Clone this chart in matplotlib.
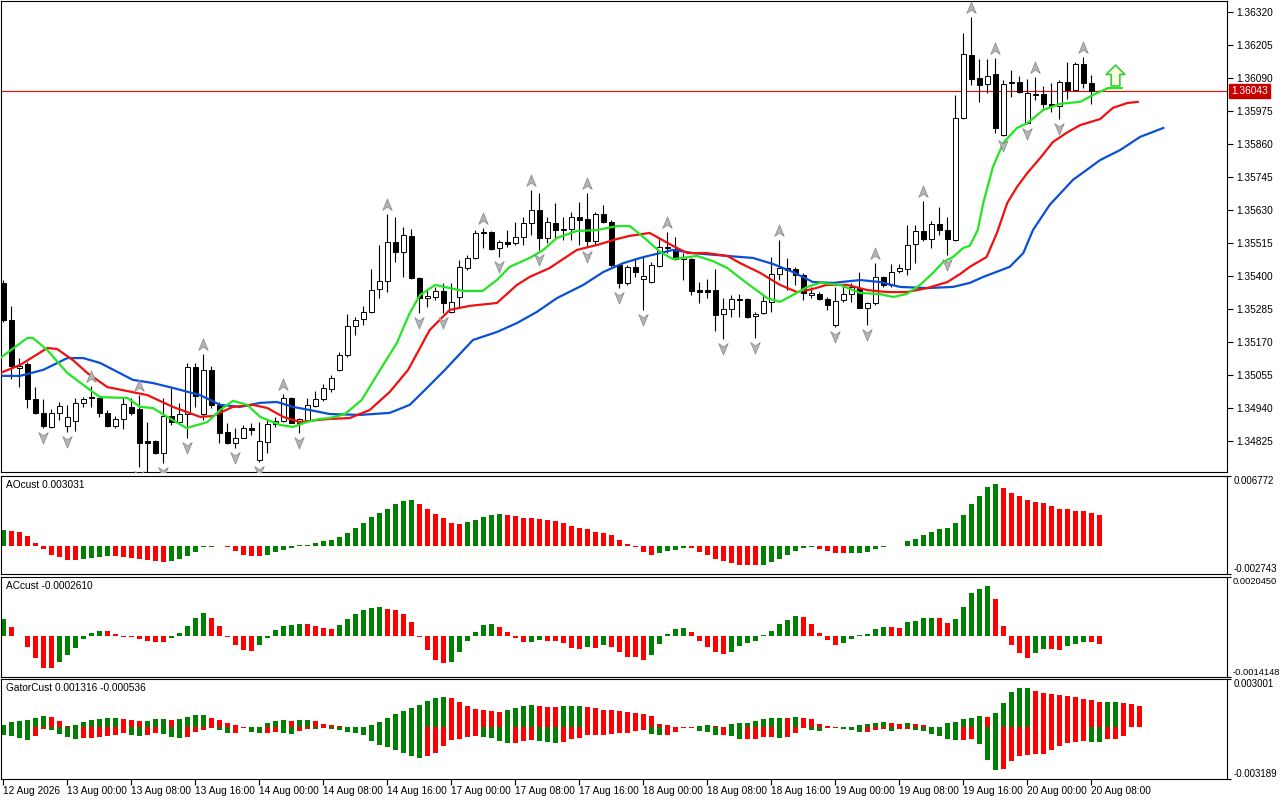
import numpy as np
import matplotlib
matplotlib.use('Agg')
import matplotlib.pyplot as plt
from matplotlib.path import Path

plt.rcParams['font.family'] = ['Liberation Sans', 'DejaVu Sans']
plt.rcParams['font.size'] = 7.3

# ---- H1 candles, 12 Aug 16:00 .. 20 Aug 09:00 ----
opens = [1.35375, 1.35246, 1.35079, 1.35093, 1.34970, 1.34922, 1.34873, 1.34922, 1.34876, 1.34894,
         1.34957, 1.34977, 1.34974, 1.34922, 1.34876, 1.34901, 1.34943, 1.34936, 1.34824, 1.34824,
         1.34782, 1.34911, 1.34890, 1.34918, 1.35082, 1.34918, 1.35072, 1.34950, 1.34856, 1.34817,
         1.34835, 1.34869, 1.34758, 1.34821, 1.34883, 1.34894, 1.34974, 1.34887, 1.34897, 1.34946,
         1.34970, 1.35005, 1.35072, 1.35124, 1.35225, 1.35249, 1.35274, 1.35354, 1.35382, 1.35518,
         1.35483, 1.35539, 1.35392, 1.35322, 1.35326, 1.35347, 1.35274, 1.35326, 1.35427, 1.35462,
         1.35549, 1.35552, 1.35497, 1.35518, 1.35514, 1.35535, 1.35584, 1.35629, 1.35532, 1.35584,
         1.35559, 1.35563, 1.35605, 1.35598, 1.35521, 1.35615, 1.35587, 1.35438, 1.35375, 1.35431,
         1.35389, 1.35378, 1.35434, 1.35497, 1.35493, 1.35458, 1.35458, 1.35350, 1.35350, 1.35350,
         1.35267, 1.35284, 1.35319, 1.35319, 1.35260, 1.35270, 1.35309, 1.35406, 1.35427, 1.35424,
         1.35403, 1.35333, 1.35336, 1.35319, 1.35228, 1.35315, 1.35336, 1.35357, 1.35288, 1.35305,
         1.35396, 1.35368, 1.35417, 1.35424, 1.35511, 1.35556, 1.35528, 1.35580, 1.35559, 1.35525,
         1.35950, 1.36169, 1.36089, 1.36068, 1.36103, 1.35891, 1.36072, 1.36075, 1.35932, 1.36030,
         1.36033, 1.35999, 1.35992, 1.36075, 1.36047, 1.36138, 1.36072, 1.36044]
highs = [1.35385, 1.35295, 1.35113, 1.35100, 1.35012, 1.34970, 1.34936, 1.34960, 1.34950, 1.34974,
         1.34977, 1.35016, 1.34977, 1.34932, 1.34911, 1.34974, 1.34974, 1.34985, 1.34890, 1.34828,
         1.34974, 1.35009, 1.34957, 1.35096, 1.35096, 1.35127, 1.35086, 1.34960, 1.34887, 1.34869,
         1.34880, 1.34887, 1.34890, 1.34897, 1.34908, 1.34988, 1.34977, 1.34904, 1.34974, 1.34998,
         1.35023, 1.35054, 1.35134, 1.35267, 1.35256, 1.35295, 1.35424, 1.35507, 1.35615, 1.35605,
         1.35570, 1.35563, 1.35395, 1.35354, 1.35361, 1.35375, 1.35375, 1.35455, 1.35472, 1.35559,
         1.35566, 1.35556, 1.35525, 1.35559, 1.35587, 1.35605, 1.35699, 1.35690, 1.35605, 1.35654,
         1.35605, 1.35622, 1.35657, 1.35688, 1.35622, 1.35647, 1.35594, 1.35441, 1.35438, 1.35462,
         1.35465, 1.35448, 1.35535, 1.35552, 1.35535, 1.35479, 1.35462, 1.35378, 1.35389, 1.35424,
         1.35322, 1.35333, 1.35336, 1.35322, 1.35274, 1.35333, 1.35465, 1.35525, 1.35462, 1.35431,
         1.35410, 1.35361, 1.35343, 1.35326, 1.35361, 1.35368, 1.35375, 1.35413, 1.35309, 1.35444,
         1.35399, 1.35440, 1.35440, 1.35577, 1.35577, 1.35661, 1.35591, 1.35640, 1.35605, 1.36030,
         1.36246, 1.36302, 1.36155, 1.36155, 1.36159, 1.36082, 1.36117, 1.36096, 1.36086, 1.36093,
         1.36061, 1.36072, 1.36082, 1.36145, 1.36145, 1.36162, 1.36100, 1.36047]
lows = [1.35239, 1.35040, 1.35012, 1.34939, 1.34918, 1.34870, 1.34870, 1.34897, 1.34856, 1.34859,
        1.34943, 1.34943, 1.34908, 1.34873, 1.34869, 1.34866, 1.34915, 1.34734, 1.34716, 1.34779,
        1.34748, 1.34880, 1.34887, 1.34835, 1.34943, 1.34897, 1.34939, 1.34817, 1.34815, 1.34800,
        1.34833, 1.34845, 1.34751, 1.34782, 1.34873, 1.34890, 1.34887, 1.34852, 1.34890, 1.34943,
        1.34964, 1.34995, 1.35068, 1.35117, 1.35194, 1.35228, 1.35270, 1.35322, 1.35343, 1.35448,
        1.35396, 1.35390, 1.35270, 1.35291, 1.35315, 1.35270, 1.35270, 1.35291, 1.35420, 1.35460,
        1.35497, 1.35490, 1.35465, 1.35500, 1.35507, 1.35507, 1.35542, 1.35490, 1.35514, 1.35532,
        1.35525, 1.35525, 1.35507, 1.35500, 1.35507, 1.35584, 1.35431, 1.35357, 1.35368, 1.35396,
        1.35281, 1.35375, 1.35431, 1.35479, 1.35455, 1.35385, 1.35333, 1.35305, 1.35322, 1.35208,
        1.35180, 1.35256, 1.35256, 1.35253, 1.35183, 1.35267, 1.35274, 1.35385, 1.35350, 1.35368,
        1.35315, 1.35322, 1.35315, 1.35281, 1.35221, 1.35309, 1.35309, 1.35288, 1.35228, 1.35298,
        1.35361, 1.35361, 1.35410, 1.35403, 1.35444, 1.35521, 1.35497, 1.35542, 1.35472, 1.35521,
        1.35947, 1.36065, 1.36006, 1.36037, 1.35898, 1.35888, 1.36023, 1.36037, 1.35929, 1.36012,
        1.35985, 1.35971, 1.35946, 1.36016, 1.36044, 1.36054, 1.35999, 1.36040]
closes = [1.35246, 1.35086, 1.35086, 1.34970, 1.34922, 1.34876, 1.34922, 1.34946, 1.34908, 1.34957,
          1.34970, 1.34974, 1.34922, 1.34876, 1.34901, 1.34953, 1.34922, 1.34817, 1.34817, 1.34782,
          1.34911, 1.34890, 1.34918, 1.35082, 1.34981, 1.35072, 1.34950, 1.34852, 1.34817, 1.34835,
          1.34869, 1.34862, 1.34824, 1.34883, 1.34894, 1.34974, 1.34887, 1.34901, 1.34950, 1.34970,
          1.35009, 1.35044, 1.35124, 1.35225, 1.35246, 1.35274, 1.35350, 1.35382, 1.35518, 1.35483,
          1.35542, 1.35392, 1.35322, 1.35329, 1.35347, 1.35305, 1.35309, 1.35431, 1.35462, 1.35549,
          1.35552, 1.35493, 1.35518, 1.35511, 1.35535, 1.35584, 1.35629, 1.35532, 1.35587, 1.35559,
          1.35563, 1.35605, 1.35594, 1.35521, 1.35615, 1.35587, 1.35438, 1.35375, 1.35431, 1.35413,
          1.35399, 1.35438, 1.35500, 1.35500, 1.35458, 1.35465, 1.35347, 1.35343, 1.35343, 1.35263,
          1.35284, 1.35319, 1.35315, 1.35256, 1.35267, 1.35312, 1.35406, 1.35427, 1.35420, 1.35403,
          1.35340, 1.35340, 1.35319, 1.35298, 1.35312, 1.35336, 1.35361, 1.35288, 1.35305, 1.35396,
          1.35368, 1.35413, 1.35427, 1.35507, 1.35556, 1.35528, 1.35580, 1.35559, 1.35528, 1.35950,
          1.36173, 1.36086, 1.36065, 1.36096, 1.35915, 1.36068, 1.36075, 1.36040, 1.36037, 1.36033,
          1.35999, 1.35992, 1.36075, 1.36047, 1.36138, 1.36072, 1.36044, 1.36043]

# alligator lines (bar position incl. shift, price)
jaw_x = [-0.4, 2.1, 5.0, 8.0, 10.0, 12.1, 16.2, 18.7, 21.2, 24.6, 27.1, 29.6, 32.1, 34.2, 36.2,
         38.3, 40.8, 44.6, 48.3, 50.8, 52.7, 55.2, 58.7, 61.7, 64.2, 66.7, 69.2, 72.5, 75.0, 77.5,
         80.0, 82.1, 83.7, 86.2, 90.5, 93.7, 96.2, 98.7, 101.2, 103.7, 107.1, 109.6, 112.1, 115.5,
         118.7, 120.8, 122.5, 125.8, 127.5, 128.7, 130.8, 133.7, 137.1, 139.6, 142.1, 145.0]
jaw_y = [1.35051, 1.35051, 1.35072, 1.35113, 1.35113, 1.35096, 1.35037, 1.35026, 1.35009, 1.34984,
         1.34950, 1.34943, 1.34957, 1.34960, 1.34943, 1.34932, 1.34918, 1.34915, 1.34922, 1.34950,
         1.35002, 1.35072, 1.35176, 1.35204, 1.35235, 1.35274, 1.35322, 1.35368, 1.35413, 1.35444,
         1.35465, 1.35479, 1.35490, 1.35479, 1.35469, 1.35462, 1.35441, 1.35413, 1.35378, 1.35375,
         1.35385, 1.35378, 1.35361, 1.35357, 1.35361, 1.35375, 1.35396, 1.35431, 1.35479, 1.35559,
         1.35647, 1.35734, 1.35803, 1.35838, 1.35884, 1.35915]
teeth_x = [-0.4, 2.1, 5.5, 6.7, 8.7, 10.5, 13.0, 15.5, 18.0, 21.2, 24.6, 26.2, 28.7, 31.2, 33.0,
           35.0, 37.1, 39.2, 40.8, 43.3, 45.8, 48.3, 50.6, 53.3, 55.8, 58.3, 61.7, 64.2, 65.8, 68.3,
           71.7, 74.2, 76.7, 78.3, 80.8, 83.7, 85.5, 87.9, 90.5, 92.1, 94.6, 97.1, 99.2, 101.2, 102.9,
           105.5, 108.0, 110.5, 112.9, 115.5, 118.0, 119.6, 120.8, 122.9, 124.2, 125.5, 126.7, 128.0,
           129.6, 131.2, 132.9, 134.6, 137.1, 138.7, 140.5, 141.8]
teeth_y = [1.35061, 1.35089, 1.35148, 1.35145, 1.35106, 1.35061, 1.35012, 1.34998, 1.34984, 1.34943,
           1.34908, 1.34911, 1.34943, 1.34950, 1.34939, 1.34908, 1.34890, 1.34897, 1.34901, 1.34904,
           1.34932, 1.34995, 1.35072, 1.35211, 1.35281, 1.35295, 1.35305, 1.35368, 1.35396, 1.35427,
           1.35490, 1.35507, 1.35528, 1.35539, 1.35549, 1.35504, 1.35479, 1.35479, 1.35469, 1.35444,
           1.35410, 1.35368, 1.35343, 1.35354, 1.35368, 1.35368, 1.35350, 1.35343, 1.35343, 1.35357,
           1.35378, 1.35406, 1.35431, 1.35465, 1.35549, 1.35654, 1.35709, 1.35758, 1.35810, 1.35866,
           1.35898, 1.35925, 1.35946, 1.35985, 1.36002, 1.36006]
lips_x = [-0.4, 3.0, 3.7, 5.5, 8.0, 10.5, 12.1, 15.5, 17.1, 18.7, 20.5, 22.9, 25.5, 27.1, 28.7,
          30.5, 32.1, 34.6, 36.2, 37.9, 39.6, 40.8, 42.7, 44.8, 47.1, 49.2, 50.8, 52.1, 54.0, 55.8,
          57.5, 59.9, 61.7, 63.3, 65.8, 67.5, 69.2, 71.7, 74.2, 76.7, 78.3, 80.0, 82.1, 83.7, 86.7,
          88.7, 90.5, 92.9, 95.5, 97.1, 98.7, 100.5, 102.1, 104.6, 107.1, 109.6, 111.2, 112.9, 114.6,
          116.2, 117.5, 118.7, 120.0, 120.8, 121.8, 122.5, 123.7, 125.0, 126.7, 128.0, 130.0, 132.1,
          134.6, 136.2, 138.1, 139.8]
lips_y = [1.35113, 1.35183, 1.35183, 1.35141, 1.35061, 1.35009, 1.34977, 1.34974, 1.34943, 1.34939,
          1.34908, 1.34869, 1.34890, 1.34932, 1.34964, 1.34950, 1.34908, 1.34880, 1.34873, 1.34890,
          1.34901, 1.34904, 1.34918, 1.34967, 1.35072, 1.35166, 1.35270, 1.35333, 1.35368, 1.35357,
          1.35347, 1.35347, 1.35385, 1.35431, 1.35462, 1.35490, 1.35532, 1.35556, 1.35559, 1.35573,
          1.35573, 1.35535, 1.35483, 1.35458, 1.35469, 1.35451, 1.35427, 1.35375, 1.35322, 1.35309,
          1.35333, 1.35361, 1.35375, 1.35368, 1.35340, 1.35336, 1.35326, 1.35336, 1.35368, 1.35410,
          1.35448, 1.35465, 1.35497, 1.35504, 1.35559, 1.35654, 1.35779, 1.35863, 1.35915, 1.35932,
          1.35978, 1.35999, 1.36006, 1.36030, 1.36054, 1.36054]

up_fractals = [11, 17, 25, 35, 48, 60, 66, 73, 83, 97, 109, 115, 121, 124, 129, 135]
down_fractals = [5, 8, 17, 20, 23, 29, 32, 37, 52, 55, 62, 67, 73, 77, 80, 90, 94, 104, 108,
                 118, 125, 128, 132]
signal_x, signal_price = 139, 1.36100
price_now = 1.36043

price_ticks = [1.36320, 1.36205, 1.36090, 1.35975, 1.35860, 1.35745, 1.35630, 1.35515,
               1.35400, 1.35285, 1.35170, 1.35055, 1.34940, 1.34825]

ao = [0.001555, 0.001458, 0.001296, 0.000907, 0.000292, -0.000356, -0.000940, -0.001134, -0.001426, -0.001426,
      -0.001328, -0.001231, -0.001134, -0.001037, -0.001037, -0.001134, -0.001231, -0.001328, -0.001426, -0.001523,
      -0.001620, -0.001523, -0.001328, -0.001037, -0.000648, -0.000130, -0.000097, -0.000065, -0.000162, -0.000551,
      -0.000875, -0.001037, -0.001037, -0.000940, -0.000648, -0.000454, -0.000227, 0.000032, 0.000097, 0.000292,
      0.000421, 0.000518, 0.000810, 0.001264, 0.001717, 0.002171, 0.002754, 0.003208, 0.003596, 0.004082,
      0.004374, 0.004471, 0.004082, 0.003596, 0.003110, 0.002689, 0.002203, 0.002106, 0.002300, 0.002527,
      0.002819, 0.003013, 0.003110, 0.003013, 0.002916, 0.002722, 0.002722, 0.002624, 0.002527, 0.002430,
      0.002236, 0.001944, 0.001750, 0.001652, 0.001361, 0.001264, 0.001069, 0.000583, 0.000194, -0.000162,
      -0.000648, -0.000875, -0.000680, -0.000486, -0.000389, -0.000259, -0.000259, -0.000583, -0.000875, -0.001264,
      -0.001523, -0.001717, -0.001847, -0.001912, -0.001912, -0.001847, -0.001620, -0.001328, -0.000940, -0.000551,
      -0.000227, -0.000130, -0.000356, -0.000486, -0.000745, -0.000745, -0.000713, -0.000680, -0.000648, -0.000356,
      -0.000130, -0.000065, -0.000032, 0.000486, 0.000680, 0.001069, 0.001361, 0.001652, 0.001750, 0.002236,
      0.003013, 0.004082, 0.004860, 0.005735, 0.006026, 0.005638, 0.005152, 0.004860, 0.004471, 0.004277,
      0.004180, 0.003888, 0.003596, 0.003596, 0.003402, 0.003402, 0.003208, 0.003031]

ac = [0.000588, 0.000311, -0.000012, -0.000381, -0.000761, -0.001107, -0.001107, -0.000899, -0.000657, -0.000415,
      -0.000092, 0.000104, 0.000185, 0.000185, 0.000069, -0.000023, -0.000035, -0.000115, -0.000173, -0.000196,
      -0.000196, -0.000069, 0.000104, 0.000346, 0.000634, 0.000807, 0.000623, 0.000346, -0.000023, -0.000311,
      -0.000484, -0.000507, -0.000311, -0.000069, 0.000208, 0.000346, 0.000381, 0.000415, 0.000415, 0.000346,
      0.000277, 0.000242, 0.000381, 0.000588, 0.000761, 0.000899, 0.000969, 0.001003, 0.000934, 0.000899,
      0.000761, 0.000484, -0.000023, -0.000484, -0.000830, -0.000934, -0.000899, -0.000553, -0.000173, 0.000138,
      0.000381, 0.000415, 0.000311, 0.000138, -0.000069, -0.000208, -0.000196, -0.000138, -0.000173, -0.000173,
      -0.000242, -0.000415, -0.000450, -0.000381, -0.000415, -0.000311, -0.000381, -0.000553, -0.000726, -0.000726,
      -0.000830, -0.000657, -0.000277, 0.000069, 0.000242, 0.000277, 0.000138, -0.000173, -0.000381, -0.000553,
      -0.000623, -0.000553, -0.000346, -0.000242, -0.000161, 0.000023, 0.000173, 0.000415, 0.000553, 0.000692,
      0.000657, 0.000415, 0.000104, -0.000127, -0.000300, -0.000231, -0.000092, 0.000023, 0.000069, 0.000242,
      0.000311, 0.000311, 0.000277, 0.000484, 0.000519, 0.000623, 0.000634, 0.000611, 0.000450, 0.000588,
      0.001003, 0.001487, 0.001626, 0.001730, 0.001280, 0.000346, -0.000300, -0.000577, -0.000761, -0.000577,
      -0.000438, -0.000438, -0.000484, -0.000334, -0.000265, -0.000196, -0.000196, -0.000261]

gator_upper = [0.000165, 0.000309, 0.000371, 0.000474, 0.000557, 0.000681, 0.000619, 0.000371, 0.000062, 0.000124,
               0.000309, 0.000433, 0.000495, 0.000557, 0.000578, 0.000495, 0.000433, 0.000371, 0.000413, 0.000495,
               0.000516, 0.000454, 0.000536, 0.000619, 0.000743, 0.000763, 0.000557, 0.000433, 0.000248, 0.000124,
               0.000010, 0.000041, 0.000021, 0.000248, 0.000371, 0.000433, 0.000371, 0.000433, 0.000454, 0.000371,
               0.000186, 0.000124, 0.000062, 0.000041, 0.0, 0.0, 0.000124, 0.000309, 0.000557, 0.000805,
               0.000990, 0.001176, 0.001362, 0.001609, 0.001795, 0.001857, 0.001795, 0.001547, 0.001300, 0.001114,
               0.001052, 0.000990, 0.000928, 0.001052, 0.001176, 0.001320, 0.001382, 0.001320, 0.001279, 0.001238,
               0.001300, 0.001320, 0.001341, 0.001258, 0.001176, 0.001093, 0.001052, 0.000990, 0.000949, 0.000887,
               0.000825, 0.000681, 0.000186, 0.000124, 0.000021, 0.000010, 0.000008, 0.000062, 0.000124, 0.000062,
               0.000021, 0.000186, 0.000248, 0.000289, 0.000371, 0.000495, 0.000557, 0.000578, 0.000557, 0.000619,
               0.000557, 0.000495, 0.000186, 0.000062, 0.000010, 0.0, 0.0, 0.000124, 0.000186, 0.000248,
               0.000309, 0.000248, 0.000186, 0.000248, 0.000186, 0.000124, 0.0, 0.0, 0.000248, 0.000309,
               0.000495, 0.000557, 0.000681, 0.000619, 0.000866, 0.001485, 0.002166, 0.002414, 0.002434, 0.002228,
               0.002104, 0.002042, 0.002022, 0.001919, 0.001857, 0.001733, 0.001671, 0.001547, 0.001568, 0.001589,
               0.001485, 0.001423, 0.001316]
gator_lower = [-0.000495, -0.000557, -0.000640, -0.000805, -0.000557, -0.000124, -0.000165, -0.000413, -0.000619, -0.000701,
               -0.000681, -0.000660, -0.000619, -0.000557, -0.000495, -0.000371, -0.000495, -0.000557, -0.000454, -0.000371,
               -0.000413, -0.000619, -0.000681, -0.000619, -0.000289, -0.000186, -0.000041, -0.000186, -0.000371, -0.000351,
               -0.000062, -0.000309, -0.000371, -0.000351, -0.000309, -0.000371, -0.000392, -0.000248, -0.000103, -0.000124,
               -0.000062, -0.000083, -0.000186, -0.000309, -0.000330, -0.000495, -0.000866, -0.001114, -0.001238, -0.001423,
               -0.001609, -0.001795, -0.001919, -0.001795, -0.001609, -0.001176, -0.000805, -0.000743, -0.000619, -0.000557,
               -0.000578, -0.000681, -0.000866, -0.000990, -0.000970, -0.000866, -0.000805, -0.000866, -0.000928, -0.000949,
               -0.000928, -0.000743, -0.000681, -0.000495, -0.000495, -0.000474, -0.000433, -0.000371, -0.000371, -0.000248,
               -0.000186, -0.000433, -0.000495, -0.000495, -0.000309, -0.000062, -0.000062, -0.000248, -0.000309, -0.000495,
               -0.000495, -0.000557, -0.000743, -0.000743, -0.000743, -0.000619, -0.000598, -0.000681, -0.000619, -0.000371,
               -0.000062, -0.000186, -0.000206, -0.000062, -0.000041, -0.000124, -0.000144, -0.000309, -0.000289, -0.000186,
               -0.000124, -0.000248, -0.000124, -0.000103, -0.000186, -0.000248, -0.000433, -0.000557, -0.000743, -0.000805,
               -0.000784, -0.000743, -0.001052, -0.002042, -0.002661, -0.002599, -0.002104, -0.001795, -0.001733, -0.001671,
               -0.001650, -0.001423, -0.001176, -0.000990, -0.000928, -0.000866, -0.000887, -0.000928, -0.000743, -0.000701,
               -0.000536]

time_idx = [0, 8, 16, 24, 32, 40, 48, 56, 64, 72, 80, 88, 96, 104, 112, 120, 128, 136]
time_labels = ['12 Aug 2026', '13 Aug 00:00', '13 Aug 08:00', '13 Aug 16:00', '14 Aug 00:00',
               '14 Aug 08:00', '14 Aug 16:00', '17 Aug 00:00', '17 Aug 08:00', '17 Aug 16:00',
               '18 Aug 00:00', '18 Aug 08:00', '18 Aug 16:00', '19 Aug 00:00', '19 Aug 08:00',
               '19 Aug 16:00', '20 Aug 00:00', '20 Aug 08:00']

GREEN = '#008000'
RED = '#ff0000'
X_LO, X_HI = -0.29, 152.96
Y_LO, Y_HI = 1.34716, 1.363575


def trend_colors(vals, use_abs=False):
    # green when the bar grew against the previous one, red otherwise
    cols = []
    prev = None
    for v in vals:
        cur = abs(v) if use_abs else v
        cols.append(GREEN if prev is None or cur > prev else RED)
        prev = cur
    return cols


def style_sub(ax, lo, hi, lo_txt, hi_txt, title, lsize=7.0, pad=2):
    ax.set_xlim(X_LO, X_HI)
    ax.set_ylim(lo, hi)
    ax.yaxis.tick_right()
    ax.set_yticks([lo, hi])
    ax.set_yticklabels([lo_txt, hi_txt])
    labs = ax.get_yticklabels()
    labs[0].set_va('bottom')
    labs[1].set_va('top')
    ax.tick_params(axis='y', direction='out', length=3, width=0.8, pad=pad, labelsize=lsize)
    ax.tick_params(axis='x', bottom=False, labelbottom=False)
    for s in ax.spines.values():
        s.set_linewidth(0.8)
    ax.text(0.004, 0.91, title, transform=ax.transAxes, ha='left', va='center')


fig = plt.figure(figsize=(12.8, 8), dpi=100)
fig.patch.set_facecolor('white')
W = 1226 / 1280
ax = fig.add_axes([1 / 1280, 0.41, W, 0.58875])
ax_ao = fig.add_axes([1 / 1280, 0.2825, W, 0.1225])
ax_ac = fig.add_axes([1 / 1280, 0.15375, W, 0.125])
ax_g = fig.add_axes([1 / 1280, 0.02625, W, 0.125])

# ---- main chart ----
idx = np.arange(len(opens))
o = np.array(opens)
h = np.array(highs)
l = np.array(lows)
c = np.array(closes)
ax.axhline(price_now, color='#ff0000', lw=0.8, zorder=1)
ax.vlines(idx, l, h, color='black', lw=0.8, zorder=2)
body_lo = np.minimum(o, c)
body_h = np.maximum(np.abs(c - o), 1e-6)
ax.bar(idx, body_h, bottom=body_lo, width=0.62,
       color=np.where(c >= o, 'white', 'black'), edgecolor='black', lw=0.7, zorder=2.5)

ax.plot(jaw_x, jaw_y, color='#0a4fd6', lw=1.6, zorder=3)
ax.plot(teeth_x, teeth_y, color='#f01010', lw=1.6, zorder=3)
ax.plot(lips_x, lips_y, color='#22e622', lw=1.6, zorder=3)

# fractal arrows
px = (Y_HI - Y_LO) / 471
arr_up = Path([(0, 1), (0.72, -0.75), (0, -0.25), (-0.72, -0.75), (0, 1)],
              [Path.MOVETO, Path.LINETO, Path.LINETO, Path.LINETO, Path.CLOSEPOLY])
arr_dn = Path([(0, -1), (0.72, 0.75), (0, 0.25), (-0.72, 0.75), (0, -1)],
              [Path.MOVETO, Path.LINETO, Path.LINETO, Path.LINETO, Path.CLOSEPOLY])
ax.plot(up_fractals, h[up_fractals] + 9 * px, ls='none', marker=arr_up, ms=9.5,
        mfc='#b4b4b4', mec='#888888', mew=0.5, zorder=4)
ax.plot(down_fractals, l[down_fractals] - 9 * px, ls='none', marker=arr_dn, ms=9.5,
        mfc='#b4b4b4', mec='#888888', mew=0.5, zorder=4)

sig = Path([(0, 1), (0.9, 0.1), (0.42, 0.1), (0.42, -1), (-0.42, -1), (-0.42, 0.1), (-0.9, 0.1), (0, 1)],
           [Path.MOVETO] + [Path.LINETO] * 6 + [Path.CLOSEPOLY])
ax.plot([signal_x], [signal_price], ls='none', marker=sig, ms=15,
        mfc='#f8ffdc', mec='#3cc83c', mew=1.2, zorder=5)

ax.set_xlim(X_LO, X_HI)
ax.set_ylim(Y_LO, Y_HI)
ax.yaxis.tick_right()
ax.set_yticks(price_ticks)
ax.set_yticklabels(['%.5f' % p for p in price_ticks])
ax.tick_params(axis='y', direction='out', length=4, width=0.8, pad=3)
ax.tick_params(axis='x', bottom=False, labelbottom=False)
for s in ax.spines.values():
    s.set_linewidth(0.8)
ax.annotate('%.5f' % price_now, xy=(1.0, price_now), xycoords=('axes fraction', 'data'),
            xytext=(3, 0), textcoords='offset points', ha='left', va='center', color='white',
            bbox=dict(boxstyle='square,pad=0.22', fc='#c80000', ec='#c80000'))

# ---- AO ----
ax_ao.bar(np.arange(len(ao)), ao, width=0.55, color=trend_colors(ao))
style_sub(ax_ao, -0.002743, 0.006772, '-0.002743', '0.006772', 'AOcust 0.003031')

# ---- AC ----
ax_ac.bar(np.arange(len(ac)), ac, width=0.55, color=trend_colors(ac))
style_sub(ax_ac, -0.0014148, 0.0020450, '-0.0014148', '0.0020450', 'ACcust -0.0002610',
          lsize=6.7, pad=1)

# ---- Gator ----
ax_g.bar(np.arange(len(gator_upper)), gator_upper, width=0.55, color=trend_colors(gator_upper))
ax_g.bar(np.arange(len(gator_lower)), gator_lower, width=0.55, color=trend_colors(gator_lower, True))
style_sub(ax_g, -0.003189, 0.003001, '-0.003189', '0.003001', 'GatorCust 0.001316 -0.000536')
ax_g.set_xticks(time_idx)
ax_g.set_xticklabels(time_labels, ha='left')
ax_g.tick_params(axis='x', bottom=True, labelbottom=True, direction='out', length=4, width=0.8, pad=1)

fig.savefig('out.png', dpi=100, facecolor='white')
